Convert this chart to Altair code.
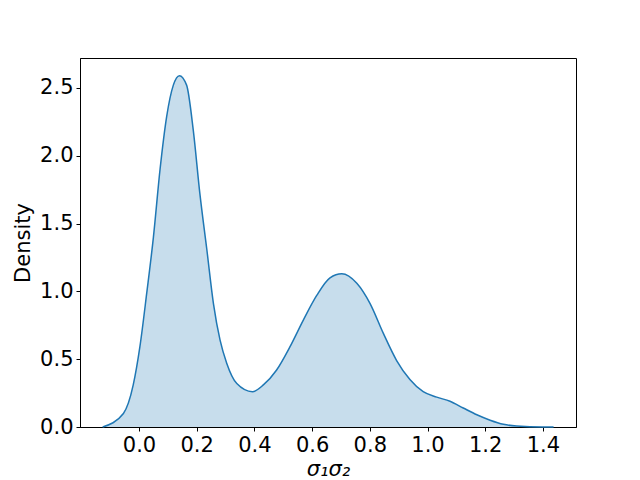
import altair as alt
import pandas as pd

xs = [-0.126, -0.054, -0.020, 0.003, 0.027, 0.050, 0.073, 0.096, 0.119, 0.140,
      0.165, 0.188, 0.211, 0.235, 0.258, 0.281, 0.304, 0.339, 0.393, 0.431,
      0.477, 0.523, 0.570, 0.616, 0.662, 0.703, 0.755, 0.801, 0.847, 0.893,
      0.939, 0.985, 1.032, 1.078, 1.124, 1.171, 1.217, 1.263, 1.309, 1.40, 1.437]
ys = [0.0, 0.10, 0.31, 0.59, 0.99, 1.40, 1.90, 2.29, 2.52, 2.59,
      2.52, 2.19, 1.72, 1.31, 0.91, 0.64, 0.47, 0.32, 0.26, 0.31,
      0.42, 0.59, 0.79, 0.97, 1.10, 1.13, 1.06, 0.91, 0.69, 0.49,
      0.35, 0.26, 0.22, 0.19, 0.14, 0.09, 0.05, 0.02, 0.007, 0.0, 0.0]
xticks = [0.0, 0.2, 0.4, 0.6, 0.8, 1.0, 1.2, 1.4]
yticks = [0.0, 0.5, 1.0, 1.5, 2.0, 2.5]

df = pd.DataFrame({"x": xs, "y": ys})

xenc = alt.X("x:Q", scale=alt.Scale(domain=[-0.2045, 1.5147], nice=False, zero=False),
             axis=alt.Axis(values=xticks, format=".1f", title="σ₁σ₂",
                           titleFontStyle="italic", titlePadding=3))
yenc = alt.Y("y:Q", scale=alt.Scale(domain=[0, 2.72], nice=False),
             axis=alt.Axis(values=yticks, format=".1f", title="Density", titlePadding=6))

area = alt.Chart(df).mark_area(color="#1f77b4", opacity=0.25, interpolate="monotone").encode(x=xenc, y=yenc)
line = alt.Chart(df).mark_line(color="#1f77b4", strokeWidth=1.5, interpolate="monotone").encode(x="x:Q", y="y:Q")

chart = (area + line).properties(
    width=496, height=369,
    autosize=alt.AutoSizeParams(type="none"),
    padding={"left": 72, "top": 50, "right": 50, "bottom": 52},
    background="white",
).configure_view(stroke="black", strokeWidth=1).configure_axis(
    grid=False, domainColor="black", domainWidth=1, tickColor="black", tickSize=4, tickWidth=1,
    labelFont="DejaVu Sans", labelFontSize=21, labelColor="black", labelPadding=3,
    titleFont="DejaVu Sans", titleFontSize=21, titleColor="black", titleFontWeight="normal",
)

chart.save("out.html", embed_options={"renderer": "svg", "actions": False})
